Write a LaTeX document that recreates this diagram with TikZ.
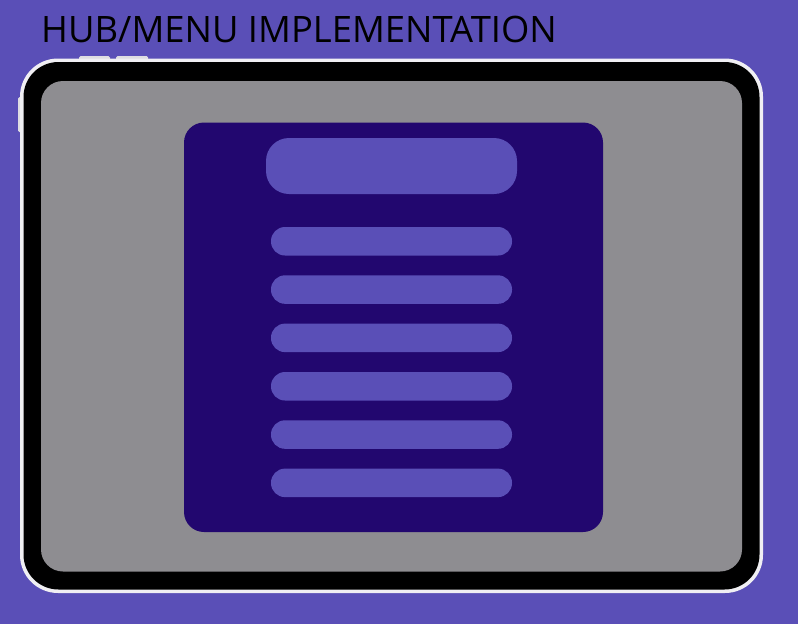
\documentclass[tikz,border=0pt]{standalone}
\usepackage{fontspec}
\setmainfont{Open Sans}
\definecolor{bgpurple}{HTML}{5A4FB7}
\definecolor{screengray}{HTML}{8E8D91}
\definecolor{paneldark}{HTML}{22076F}
\definecolor{btngray}{HTML}{DEDDE2}
\definecolor{rimwhite}{HTML}{F0EFF3}
\tikzset{
  pill/.style={fill=bgpurple, draw=none, rounded corners=14pt},
  btn/.style={fill=btngray, draw=none, rounded corners=1.5pt},
}
\begin{document}
\begin{tikzpicture}[x=1pt,y=-1pt]
\useasboundingbox (0,0) rectangle (798,624);
\fill[bgpurple] (0,0) rectangle (798,624);
% title
\node[anchor=base west, inner sep=0pt, font=\fontsize{36.4}{40}\selectfont] (title) at (41,42) {HUB/MENU IMPLEMENTATION};
% side buttons
\fill[btn] (79,56) rectangle (110,63);
\fill[btn] (116,56) rectangle (148,63);
\fill[btn] (18,97) rectangle (24,132);
% tablet body
\fill[rimwhite, rounded corners=38pt] (20,58.5) rectangle (763,593);
\fill[black, rounded corners=35pt] (23.5,62) rectangle (759.5,589.5);
\fill[screengray, rounded corners=22pt] (41,81) rectangle (742,571.5);
% panel
\fill[paneldark, rounded corners=20pt] (184,122.5) rectangle (603,532);
% header
\fill[pill, rounded corners=23pt] (266,138) rectangle (517,194);
% items
\foreach \y in {227,275.3,323.6,372,420.3,468.6}{
  \fill[pill] (271,\y) rectangle (512,\y+28.5);
}
\end{tikzpicture}
\end{document}
